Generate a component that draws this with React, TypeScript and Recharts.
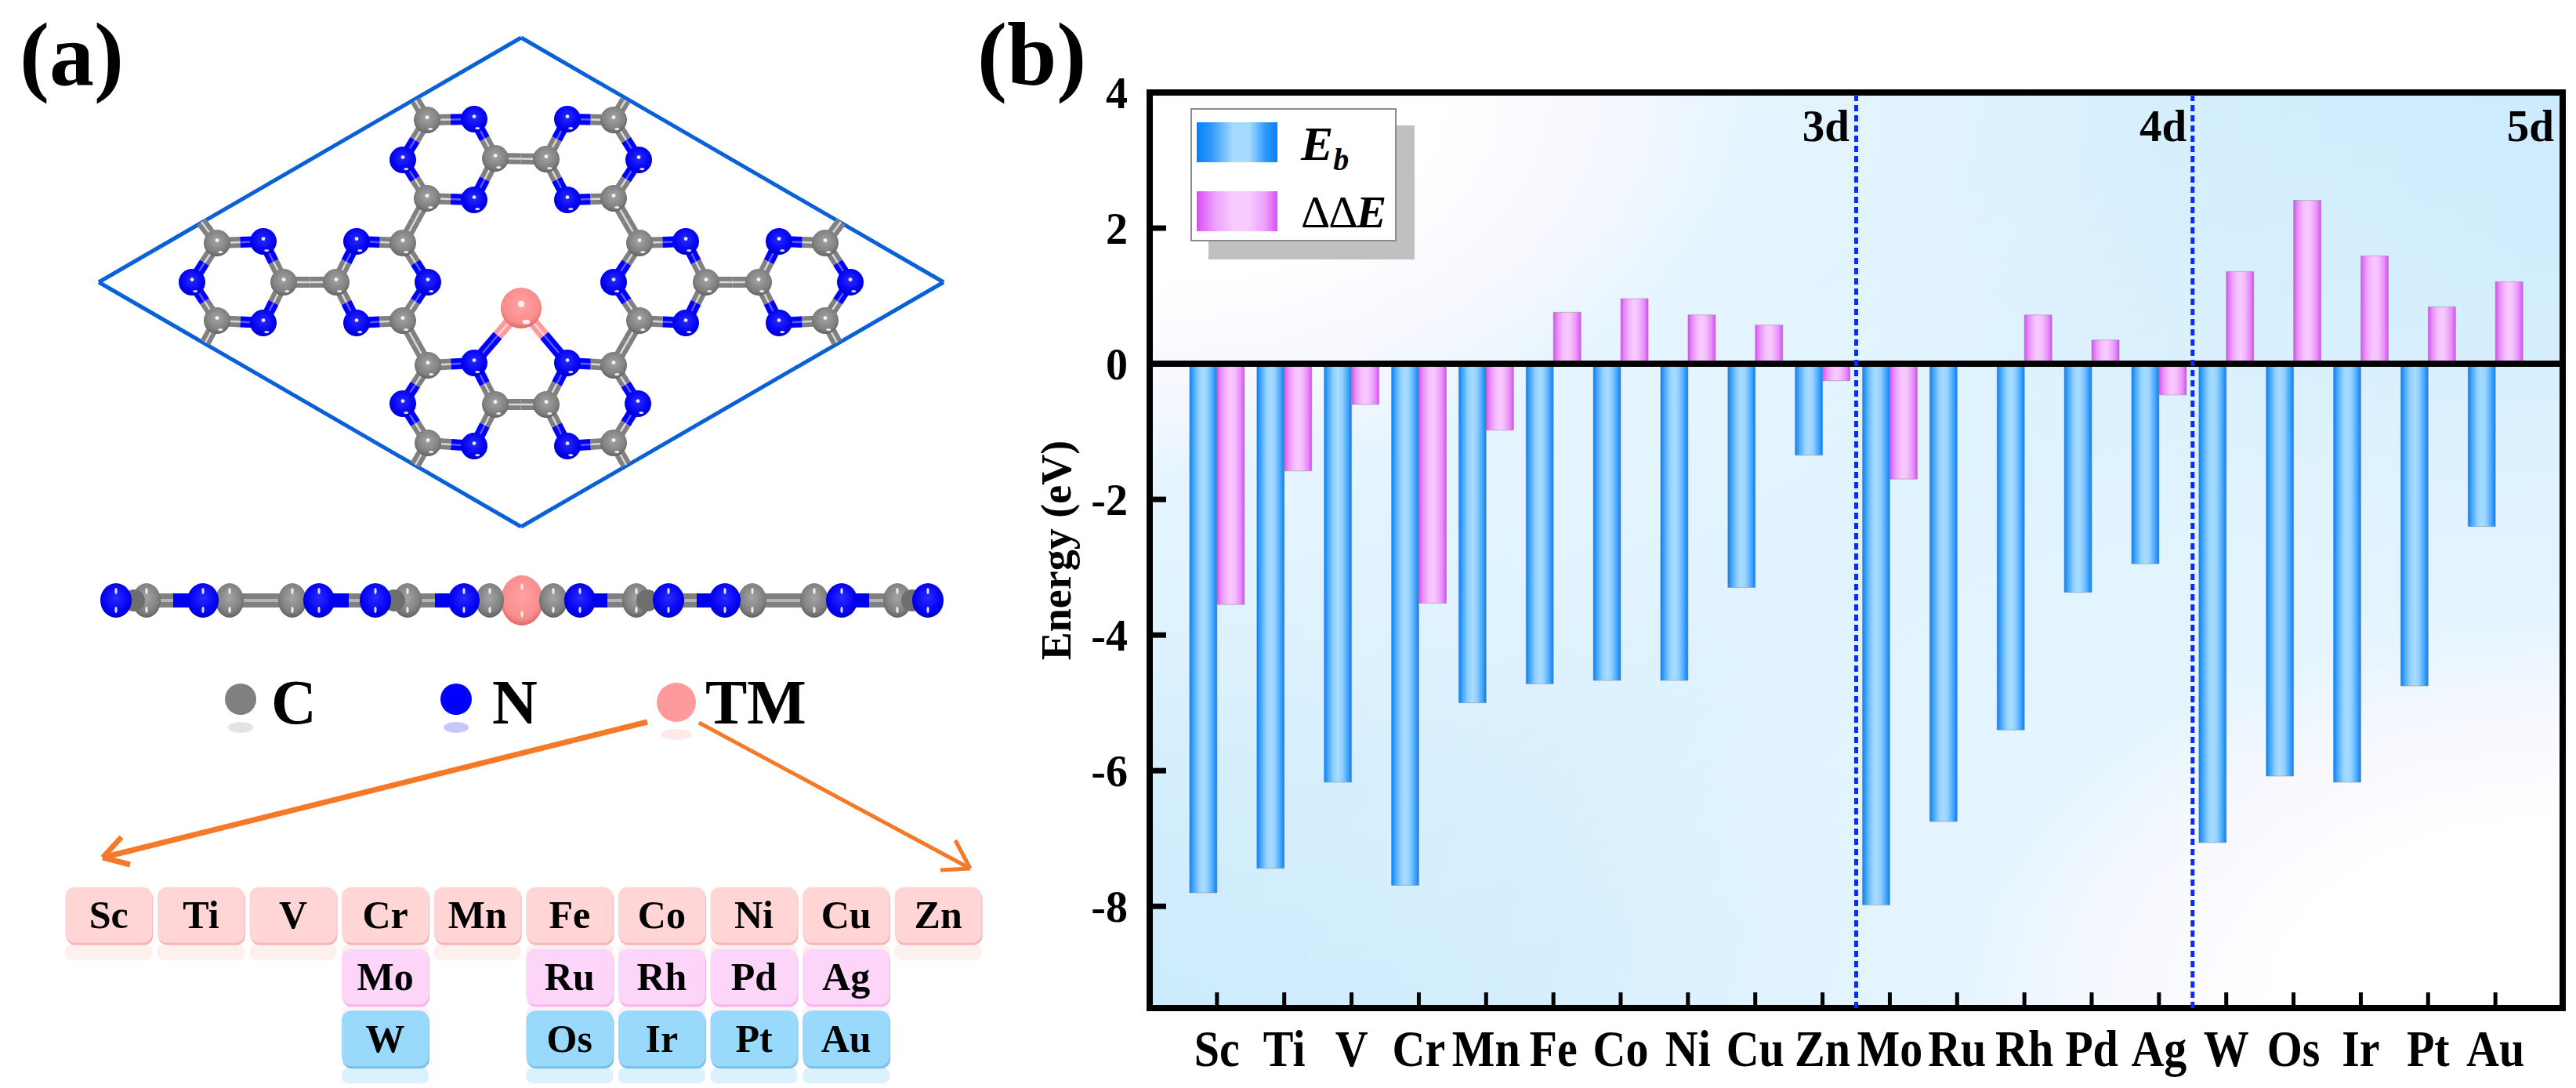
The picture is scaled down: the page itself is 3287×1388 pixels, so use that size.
/**
 * TM anchored sheet: structure panel (a) and energy bar chart (b)
 */
import React from 'react';
import {
  BarChart,
  Bar,
  XAxis,
  YAxis,
  Legend,
  ReferenceArea,
  ReferenceLine,
  ReferenceDot,
  ScatterChart,
  Scatter,
} from 'recharts';

const SERIF = '"Liberation Serif", "Times New Roman", serif';

// ---- panel (b) values ----
const elements = ['Sc', 'Ti', 'V', 'Cr', 'Mn', 'Fe', 'Co', 'Ni', 'Cu', 'Zn', 'Mo', 'Ru', 'Rh', 'Pd', 'Ag', 'W', 'Os', 'Ir', 'Pt', 'Au'];
const positions = [1, 2, 3, 4, 5, 6, 7, 8, 9, 10, 11, 12, 13, 14, 15, 16, 17, 18, 19, 20];
const bindingEnergy = [-7.8, -7.44, -6.17, -7.69, -5.0, -4.72, -4.67, -4.67, -3.3, -1.35, -7.98, -6.75, -5.4, -3.37, -2.95, -7.06, -6.08, -6.17, -4.75, -2.4];
const deltaDeltaE = [-3.55, -1.58, -0.6, -3.53, -0.98, 0.76, 0.96, 0.72, 0.57, -0.25, -1.7, null, 0.72, 0.35, -0.46, 1.36, 2.41, 1.59, 0.84, 1.21];
const yTicks = [-8, -6, -4, -2, 0, 2, 4];
const blockBorders = [10.5, 15.5];
const blockLabels = [
  { x: 10.05, label: '3d' },
  { x: 15.06, label: '4d' },
  { x: 20.52, label: '5d' },
];

const barRows = elements.map((el, i) => ({
  el,
  pos: positions[i],
  eb: bindingEnergy[i],
  dde: deltaDeltaE[i],
}));

// ---- panel (a) periodic table ----
const period3 = ['Sc', 'Ti', 'V', 'Cr', 'Mn', 'Fe', 'Co', 'Ni', 'Cu', 'Zn'];
const period4 = ['', '', '', 'Mo', '', 'Ru', 'Rh', 'Pd', 'Ag', ''];
const period5 = ['', '', '', 'W', '', 'Os', 'Ir', 'Pt', 'Au', ''];
const periodFill = ['#ffd5d5', '#fdd5f8', '#99d9fb'];
const periodEdge = ['#ffb4b4', '#f9b2ee', '#78c0ea'];
const periodCells = [period3, period4, period5].flatMap((row, r) =>
  row.map((label, c) => ({ x: c, y: r, label, row: r })).filter((d) => d.label),
);

// ---- panel (a) top view in pixels ----
type Atom = [number, number, string];
const rings: Atom[][] = [
  [[545, 153, 'C'], [605, 152, 'N'], [632, 202, 'C'], [605, 255, 'N'], [545, 253, 'C'], [514, 204, 'N']],
  [[783, 153, 'C'], [724, 152, 'N'], [697, 203, 'C'], [724, 255, 'N'], [783, 253, 'C'], [815, 204, 'N']],
  [[514, 310, 'C'], [455, 308, 'N'], [429, 360, 'C'], [455, 412, 'N'], [514, 409, 'C'], [546, 360, 'N']],
  [[816, 310, 'C'], [875, 308, 'N'], [901, 360, 'C'], [875, 412, 'N'], [816, 409, 'C'], [783, 360, 'N']],
  [[277, 310, 'C'], [336, 308, 'N'], [362, 360, 'C'], [336, 412, 'N'], [277, 409, 'C'], [245, 360, 'N']],
  [[1053, 310, 'C'], [994, 308, 'N'], [968, 360, 'C'], [994, 412, 'N'], [1053, 409, 'C'], [1085, 360, 'N']],
  [[546, 466, 'C'], [605, 463, 'N'], [632, 516, 'C'], [605, 569, 'N'], [546, 565, 'C'], [514, 515, 'N']],
  [[783, 466, 'C'], [724, 463, 'N'], [697, 516, 'C'], [724, 569, 'N'], [783, 565, 'C'], [814, 515, 'N']],
];
const links: Atom[][] = [
  [[632, 202, 'C'], [697, 203, 'C']],
  [[545, 253, 'C'], [514, 310, 'C']],
  [[783, 253, 'C'], [816, 310, 'C']],
  [[429, 360, 'C'], [362, 360, 'C']],
  [[901, 360, 'C'], [968, 360, 'C']],
  [[514, 409, 'C'], [546, 466, 'C']],
  [[816, 409, 'C'], [783, 466, 'C']],
  [[632, 516, 'C'], [697, 516, 'C']],
  [[665, 393, 'TM'], [605, 463, 'N']],
  [[665, 393, 'TM'], [724, 463, 'N']],
  [[545, 153, 'C'], [530, 128, 'C']],
  [[783, 153, 'C'], [798, 128, 'C']],
  [[277, 310, 'C'], [257, 283, 'C']],
  [[277, 409, 'C'], [262, 437, 'C']],
  [[1053, 310, 'C'], [1073, 283, 'C']],
  [[1053, 409, 'C'], [1068, 437, 'C']],
  [[546, 565, 'C'], [530, 593, 'C']],
  [[783, 565, 'C'], [799, 593, 'C']],
];
const tmAtom: Atom = [665, 393, 'TM'];
const cellCorners = [
  { x: 126, y: 360 },
  { x: 665, y: 48 },
  { x: 1204, y: 360 },
  { x: 665, y: 672 },
];

// ---- panel (a) side view ----
const sideY = 766;
const sideN = [148, 259, 407, 479, 592, 740, 853, 925, 1074, 1184];
const sideC = [187, 293, 373, 520, 625, 706, 812, 960, 1039, 1145];
const sideStub = [171, 503, 826, 1164];
const sideTM = [666];
const sideBlue: number[][] = [[221, 243], [423, 445], [555, 573], [757, 775], [889, 907], [1090, 1109]];

// ---- panel (a) atom key and arrows ----
const atomKey = [
  { x: 307, y: 892, el: 'C', r: 20, label: 'C', labelX: 346 },
  { x: 582, y: 892, el: 'N', r: 20, label: 'N', labelX: 628 },
  { x: 863, y: 896, el: 'TM', r: 25, label: 'TM', labelX: 900 },
];
const arrows = [
  { from: [826, 921], to: [131, 1094], barbs: [[155, 1068], [166, 1103]], width: 7 },
  { from: [892, 922], to: [1238, 1108], barbs: [[1219, 1072], [1200, 1110]], width: 5 },
];

const ATOM_COLORS: Record<string, { c: string; shine: string }> = {
  C: { c: '#808080', shine: '#d8d8d8' },
  N: { c: '#0000ff', shine: '#5a5aff' },
  TM: { c: '#ff9a9c', shine: '#ffd8d8' },
};

const pairs: Atom[][] = [...rings.flatMap((ring) => ring.map((a, i) => [a, ring[(i + 1) % ring.length]])), ...links];
const atoms: Atom[] = [...rings.flat(), tmAtom];
const topAtoms = atoms.map(([x, y, el]) => ({ x, y, el }));
const halves = pairs.flatMap(([a, b]) => {
  const mid = { x: (a[0] + b[0]) / 2, y: (a[1] + b[1]) / 2 };
  return [
    { a: { x: a[0], y: a[1] }, b: mid, el: a[2] },
    { a: mid, b: { x: b[0], y: b[1] }, el: b[2] },
  ];
});

const TopAtomShape = (props: any) => {
  const { cx, cy, payload } = props;
  const big = payload.el === 'TM';
  const r = big ? 26 : 17;
  return (
    <g>
      <circle cx={cx} cy={cy} r={r} fill={`url(#atom${payload.el})`} />
      <circle cx={cx} cy={cy - r * 0.2} r={big ? 4 : 2.4} fill="#fff" opacity={0.9} />
      <ellipse cx={cx + r * 0.25} cy={cy + r * 0.68} rx={big ? 5 : 3} ry={big ? 3 : 1.6} fill="#fff" opacity={0.85} />
    </g>
  );
};

const SideAtomShape = (props: any) => {
  const { cx, cy, payload } = props;
  const rx = payload.el === 'TM' ? 27 : payload.el === 'N' ? 20 : 18;
  const ry = payload.el === 'TM' ? 32 : 22;
  return (
    <g>
      <ellipse cx={cx} cy={cy} rx={rx} ry={ry} fill={`url(#atom${payload.el})`} />
      <ellipse cx={cx} cy={cy - ry * 0.55} rx={1.6} ry={4} fill="#fff" opacity={0.85} />
      <ellipse cx={cx} cy={cy + ry * 0.55} rx={1.6} ry={4} fill="#fff" opacity={0.85} />
    </g>
  );
};

const StubShape = (props: any) => <circle cx={props.cx} cy={props.cy} r={14} fill="#6e6e6e" />;

const KeyShape = (props: any) => {
  const { cx, cy, payload } = props;
  const color = ATOM_COLORS[payload.el].c;
  return (
    <g>
      <ellipse cx={cx} cy={cy + payload.r + 16} rx={payload.r * 0.8} ry={7} fill={color} opacity={0.22} />
      <circle cx={cx} cy={cy} r={payload.r} fill={color} />
      <text x={payload.labelX} y={923} fontFamily={SERIF} fontWeight="bold" fontSize={80} fill="#000">
        {payload.label}
      </text>
    </g>
  );
};

const CellShape = (props: any) => {
  const { cx, cy, payload } = props;
  const w = 111;
  const h = 71;
  const x = cx - w / 2;
  const y = cy - h / 2;
  return (
    <g>
      <rect x={x} y={y + h + 2} width={w} height={20} rx={8} fill={periodFill[payload.row]} opacity={0.35} />
      <rect x={x + 1} y={y + 3} width={w} height={h} rx={12} fill={periodEdge[payload.row]} />
      <rect x={x} y={y} width={w} height={h} rx={12} fill={periodFill[payload.row]} />
      <text x={cx} y={cy + 17} textAnchor="middle" fontFamily={SERIF} fontWeight="bold" fontSize={50} fill="#000">
        {payload.label}
      </text>
    </g>
  );
};

const BlockLabel = ({ viewBox, value }: any) => (
  <text x={viewBox.x} y={viewBox.y + 19} textAnchor="middle" fontFamily={SERIF} fontWeight="bold" fontSize={57} fill="#000">
    {value}
  </text>
);

// the reference's element labels are a little stretched upward
const ElementTick = ({ x, y, payload }: any) => (
  <text
    transform={`translate(${x},${y + 41}) scale(1,1.13)`}
    textAnchor="middle"
    fontFamily={SERIF}
    fontWeight="bold"
    fontSize={58}
    fill="#000"
  >
    {elements[payload.value - 1]}
  </text>
);

const EnergyLegend = () => (
  <div style={{ position: 'relative', width: 263, height: 170, fontFamily: SERIF, fontWeight: 'bold', fontStyle: 'italic' }}>
    <div style={{ position: 'absolute', left: 23, top: 22, width: 263, height: 171, background: '#c0c0c0' }} />
    <div style={{ position: 'absolute', left: 0, top: 0, width: 259, height: 166, background: '#fff', border: '2px solid #8a8a8a' }} />
    <div style={{ position: 'absolute', left: 8, top: 18, width: 103, height: 51, background: 'linear-gradient(90deg,#0680f8 0%,#2f99fa 18%,#a5dbff 45%,#a5dbff 65%,#2f99fa 85%,#0680f8 100%)' }} />
    <div style={{ position: 'absolute', left: 8, top: 106, width: 103, height: 51, background: 'linear-gradient(90deg,#d94cf5 0%,#eca0fa 22%,#f8caff 45%,#f8caff 65%,#eca0fa 85%,#d94cf5 100%)' }} />
    <div style={{ position: 'absolute', left: 141, top: 14, fontSize: 62, lineHeight: '62px', color: '#000' }}>
      E<sub style={{ fontSize: 40, lineHeight: 0 }}>b</sub>
    </div>
    <div style={{ position: 'absolute', left: 141, top: 102, fontSize: 58, lineHeight: '62px', color: '#000', whiteSpace: 'nowrap', letterSpacing: -2 }}>
      <span style={{ fontStyle: 'normal', fontWeight: 'normal' }}>ΔΔ</span>E
    </div>
  </div>
);

const StructurePanel = () => (
  <ScatterChart width={1300} height={1388} margin={{ top: 0, right: 0, bottom: 0, left: 0 }}>
    <defs>
      <radialGradient id="atomC" cx="50%" cy="42%" r="60%">
        <stop offset="0%" stopColor="#a4a4a4" />
        <stop offset="70%" stopColor="#808080" />
        <stop offset="100%" stopColor="#5e5e5e" />
      </radialGradient>
      <radialGradient id="atomN" cx="50%" cy="42%" r="60%">
        <stop offset="0%" stopColor="#2a2aff" />
        <stop offset="75%" stopColor="#0000f0" />
        <stop offset="100%" stopColor="#0000b8" />
      </radialGradient>
      <radialGradient id="atomTM" cx="50%" cy="42%" r="60%">
        <stop offset="0%" stopColor="#ffa2a4" />
        <stop offset="75%" stopColor="#f98c8c" />
        <stop offset="100%" stopColor="#d86262" />
      </radialGradient>
    </defs>
    <XAxis type="number" dataKey="x" domain={[0, 1300]} allowDataOverflow hide />
    <YAxis type="number" dataKey="y" domain={[0, 1388]} allowDataOverflow reversed hide />

    {cellCorners.map((c, i) => (
      <ReferenceLine key={`cell${i}`} segment={[c, cellCorners[(i + 1) % cellCorners.length]]} stroke="#0a60d6" strokeWidth={5} />
    ))}

    {/* side view */}
    <Scatter data={sideTM.map((x) => ({ x, y: sideY, el: 'TM' }))} shape={SideAtomShape} isAnimationActive={false} />
    <ReferenceLine segment={[{ x: 160, y: sideY }, { x: 1170, y: sideY }]} stroke="#808080" strokeWidth={18} />
    <ReferenceLine segment={[{ x: 160, y: sideY }, { x: 1170, y: sideY }]} stroke="#b4b4b4" strokeWidth={4} />
    {sideBlue.map(([x1, x2], i) => (
      <ReferenceLine key={`sb${i}`} segment={[{ x: x1, y: sideY }, { x: x2, y: sideY }]} stroke="#0000f0" strokeWidth={18} />
    ))}

    {/* bonds, two tone */}
    {halves.map((h, i) => (
      <ReferenceLine key={`bond${i}`} segment={[h.a, h.b]} stroke={ATOM_COLORS[h.el].c} strokeWidth={14} />
    ))}
    {halves.map((h, i) => (
      <ReferenceLine key={`shine${i}`} segment={[h.a, h.b]} stroke={ATOM_COLORS[h.el].shine} strokeWidth={2.5} />
    ))}

    {arrows.flatMap((arrow, i) => [
      <ReferenceLine
        key={`arrow${i}`}
        segment={[{ x: arrow.from[0], y: arrow.from[1] }, { x: arrow.to[0], y: arrow.to[1] }]}
        stroke="#f47a2a"
        strokeWidth={arrow.width}
      />,
      ...arrow.barbs.map((b, j) => (
        <ReferenceLine
          key={`barb${i}${j}`}
          segment={[{ x: arrow.to[0], y: arrow.to[1] }, { x: b[0], y: b[1] }]}
          stroke="#f47a2a"
          strokeWidth={arrow.width}
        />
      )),
    ])}

    <Scatter data={topAtoms} shape={TopAtomShape} isAnimationActive={false} />
    <Scatter data={sideC.map((x) => ({ x, y: sideY, el: 'C' }))} shape={SideAtomShape} isAnimationActive={false} />
    <Scatter data={sideStub.map((x) => ({ x, y: sideY }))} shape={StubShape} isAnimationActive={false} />
    <Scatter data={sideN.map((x) => ({ x, y: sideY, el: 'N' }))} shape={SideAtomShape} isAnimationActive={false} />
    <Scatter data={atomKey} shape={KeyShape} isAnimationActive={false} />

    <text x={25} y={108} fontFamily={SERIF} fontWeight="bold" fontSize={114} fill="#000">
      (a)
    </text>
  </ScatterChart>
);

const PeriodicPanel = () => (
  <ScatterChart width={1176} height={262} margin={{ top: 0, right: 0, bottom: 26, left: 0 }}>
    <XAxis type="number" dataKey="x" domain={[-0.5, 9.5]} hide />
    <YAxis type="number" dataKey="y" domain={[-0.5, 2.5]} reversed hide />
    <Scatter data={periodCells} shape={CellShape} isAnimationActive={false} />
  </ScatterChart>
);

const EnergyPanel = () => (
  <BarChart
    width={2047}
    height={1388}
    data={barRows}
    barSize={35}
    barGap={0}
    margin={{ top: 118, right: 17, bottom: 0, left: 127 }}
  >
    <defs>
      <radialGradient id="glowTopLeft" cx="0" cy="0" r="1">
        <stop offset="0%" stopColor="#ffffff" stopOpacity={1} />
        <stop offset="20%" stopColor="#ffffff" stopOpacity={1} />
        <stop offset="32%" stopColor="#fdfaff" stopOpacity={0.88} />
        <stop offset="42%" stopColor="#fbfcff" stopOpacity={0.55} />
        <stop offset="60%" stopColor="#ffffff" stopOpacity={0.36} />
        <stop offset="75%" stopColor="#ffffff" stopOpacity={0.18} />
        <stop offset="100%" stopColor="#ffffff" stopOpacity={0} />
      </radialGradient>
      <radialGradient id="glowBottomRight" cx="1" cy="1" r="1">
        <stop offset="0%" stopColor="#ffffff" stopOpacity={1} />
        <stop offset="20%" stopColor="#ffffff" stopOpacity={1} />
        <stop offset="32%" stopColor="#fdfaff" stopOpacity={0.88} />
        <stop offset="42%" stopColor="#fbfcff" stopOpacity={0.55} />
        <stop offset="60%" stopColor="#ffffff" stopOpacity={0.36} />
        <stop offset="75%" stopColor="#ffffff" stopOpacity={0.18} />
        <stop offset="100%" stopColor="#ffffff" stopOpacity={0} />
      </radialGradient>
      <linearGradient id="barBlue" x1="0" y1="0" x2="1" y2="0">
        <stop offset="0%" stopColor="#0680f8" />
        <stop offset="15%" stopColor="#4aa8fc" />
        <stop offset="35%" stopColor="#94d2ff" />
        <stop offset="50%" stopColor="#a8dcff" />
        <stop offset="65%" stopColor="#94d2ff" />
        <stop offset="85%" stopColor="#4aa8fc" />
        <stop offset="100%" stopColor="#0680f8" />
      </linearGradient>
      <linearGradient id="barPink" x1="0" y1="0" x2="1" y2="0">
        <stop offset="0%" stopColor="#d94cf5" />
        <stop offset="15%" stopColor="#e88ef9" />
        <stop offset="35%" stopColor="#f4bdfd" />
        <stop offset="50%" stopColor="#f8caff" />
        <stop offset="65%" stopColor="#f4bdfd" />
        <stop offset="85%" stopColor="#e88ef9" />
        <stop offset="100%" stopColor="#d94cf5" />
      </linearGradient>
    </defs>
    <XAxis
      type="number"
      dataKey="pos"
      domain={[0, 21]}
      ticks={positions}
      interval={0}
      height={102}
      axisLine={false}
      tickSize={-20}
      tickMargin={53}
      tickLine={{ stroke: '#000', strokeWidth: 5 }}
      tick={<ElementTick />}
      allowDataOverflow
    />
    <YAxis
      type="number"
      domain={[-9.5, 4]}
      ticks={yTicks}
      width={100}
      interval={0}
      axisLine={false}
      tickSize={-21}
      tickMargin={49}
      tickLine={{ stroke: '#000', strokeWidth: 7 }}
      tick={{ fontFamily: SERIF, fontWeight: 'bold', fontSize: 56, fill: '#000' }}
      allowDataOverflow
      label={{
        value: 'Energy (eV)',
        angle: -90,
        position: 'left',
        offset: 20,
        style: { fontFamily: SERIF, fontWeight: 'bold', fontSize: 54, fill: '#000', textAnchor: 'middle' },
      }}
    />
    <ReferenceArea x1={0} x2={21} y1={-9.5} y2={4} fill="#cbebfd" fillOpacity={1} stroke="none" />
    <ReferenceArea x1={0} x2={21} y1={-9.5} y2={4} fill="url(#glowTopLeft)" fillOpacity={1} stroke="none" />
    <ReferenceArea x1={0} x2={21} y1={-9.5} y2={4} fill="url(#glowBottomRight)" fillOpacity={1} stroke="none" />
    <ReferenceArea x1={0} x2={21} y1={-9.5} y2={4} fill="none" stroke="#000" strokeWidth={8} />
    <Bar dataKey="eb" fill="url(#barBlue)" stroke="#8a8a8a" strokeOpacity={0.5} strokeWidth={1} isAnimationActive={false} />
    <Bar dataKey="dde" fill="url(#barPink)" stroke="#8a8a8a" strokeOpacity={0.5} strokeWidth={1} isAnimationActive={false} />
    <ReferenceLine y={0} stroke="#000" strokeWidth={8} />
    {blockBorders.map((x) => (
      <ReferenceLine key={x} x={x} stroke="#0a2cf5" strokeWidth={5} strokeDasharray="8 5" />
    ))}
    {blockLabels.map((b) => (
      <ReferenceDot key={b.label} x={b.x} y={3.5} r={0} stroke="none" label={<BlockLabel value={b.label} />} />
    ))}
    <Legend
      layout="vertical"
      align="center"
      verticalAlign="middle"
      wrapperStyle={{ left: 279, top: 138, width: 290, height: 195 }}
      content={EnergyLegend}
    />
    <text x={7} y={108} fontFamily={SERIF} fontWeight="bold" fontSize={114} fill="#000">
      (b)
    </text>
  </BarChart>
);

export default function App() {
  return (
    <div style={{ position: 'absolute', left: 0, top: 0, width: 3287, height: 1388, background: '#fff', overflow: 'hidden' }}>
      <div style={{ position: 'absolute', left: 0, top: 0 }}>
        <StructurePanel />
      </div>
      <div style={{ position: 'absolute', left: 80, top: 1128 }}>
        <PeriodicPanel />
      </div>
      <div style={{ position: 'absolute', left: 1240, top: 0 }}>
        <EnergyPanel />
      </div>
    </div>
  );
}
